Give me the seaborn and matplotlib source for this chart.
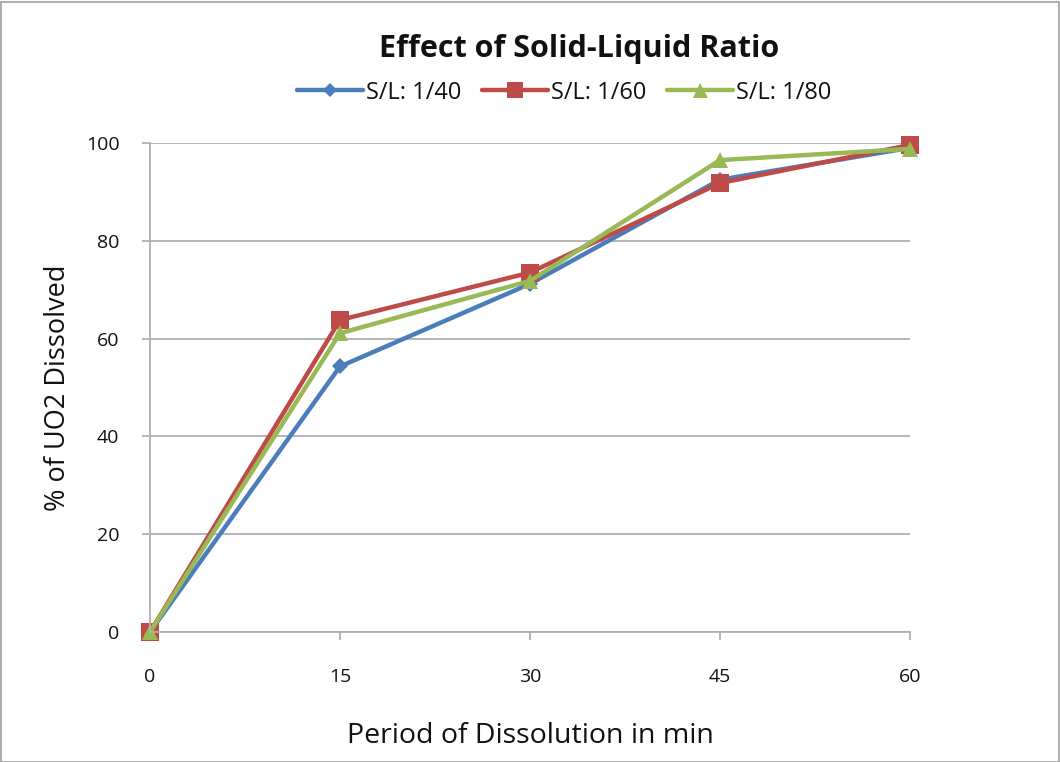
import matplotlib
matplotlib.use("Agg")
import matplotlib.pyplot as plt
import seaborn as sns
import pandas as pd
from matplotlib.patches import Rectangle

times = [0, 15, 30, 45, 60]
series_names = ["S/L: 1/40", "S/L: 1/60", "S/L: 1/80"]
sl_40 = [0, 54.3, 71.2, 92.5, 99.0]
sl_60 = [0, 63.8, 73.5, 91.8, 99.6]
sl_80 = [0, 61.1, 71.8, 96.5, 98.8]
x_ticks = [0, 15, 30, 45, 60]
y_ticks = [0, 20, 40, 60, 80, 100]

sns.set_theme(style="white")
plt.rcParams['font.family'] = ['Open Sans', 'DejaVu Sans']

df = pd.DataFrame({
    "time": times * 3,
    "value": sl_40 + sl_60 + sl_80,
    "series": [series_names[0]] * 5 + [series_names[1]] * 5 + [series_names[2]] * 5,
})

colors = {"S/L: 1/40": "#4A7EBB", "S/L: 1/60": "#BE4B48", "S/L: 1/80": "#98B954"}
markers = {"S/L: 1/40": "D", "S/L: 1/60": "s", "S/L: 1/80": "^"}
msizes = {"S/L: 1/40": 8, "S/L: 1/60": 13, "S/L: 1/80": 12}

fig = plt.figure(figsize=(10.6, 7.62), dpi=100)
ax = fig.add_axes([150/1060, 1 - 632/762, 760/1060, 489/762])

for name in series_names:
    sub = df[df["series"] == name]
    sns.lineplot(data=sub, x="time", y="value", ax=ax, color=colors[name],
                 marker=markers[name], markersize=msizes[name], linewidth=3.2,
                 markeredgewidth=0, label=name, clip_on=False)

ax.set_xlim(0, 60)
ax.set_ylim(0, 100)
ax.set_xticks(x_ticks)
ax.set_yticks(y_ticks)
ax.set_xticklabels([str(t) for t in x_ticks], fontsize=14, color="#111111")
ax.set_yticklabels([str(t) for t in y_ticks], fontsize=14, color="#111111")
ax.yaxis.grid(True, color="#B0B0B0", linewidth=1.3)
ax.xaxis.grid(False)
for s in ["top", "right"]:
    ax.spines[s].set_visible(False)
for s in ["left", "bottom"]:
    ax.spines[s].set_color("#B0B0B0")
    ax.spines[s].set_linewidth(1.3)
ax.tick_params(axis="both", which="major", length=6, width=1.3, color="#B0B0B0",
               direction="out", bottom=True, left=True)
ax.tick_params(axis="x", pad=20)
ax.tick_params(axis="y", pad=16)
ax.set_axisbelow(True)

ax.set_xlabel("Period of Dissolution in min", fontsize=20.5, labelpad=26, color="#111111")
ax.set_ylabel("% of UO2 Dissolved", fontsize=19.5, labelpad=10, color="#111111")

ax.set_title("Effect of Solid-Liquid Ratio", fontsize=22, fontweight="bold", pad=62,
             color="#111111", x=0.564)

leg = ax.legend(loc="lower center", bbox_to_anchor=(0.545, 1.035), ncol=3, frameon=False,
                fontsize=17, handlelength=2.8, handletextpad=0.1, columnspacing=0.9,
                markerscale=0.9)
for t in leg.get_texts():
    t.set_color("#111111")

fig.patches.append(Rectangle((0.5/1060, 0.5/762), 1 - 2/1060, 1 - 2/762,
                             transform=fig.transFigure, fill=False,
                             edgecolor="#A0A0A0", linewidth=1.2))

fig.savefig("out.png", dpi=100)
